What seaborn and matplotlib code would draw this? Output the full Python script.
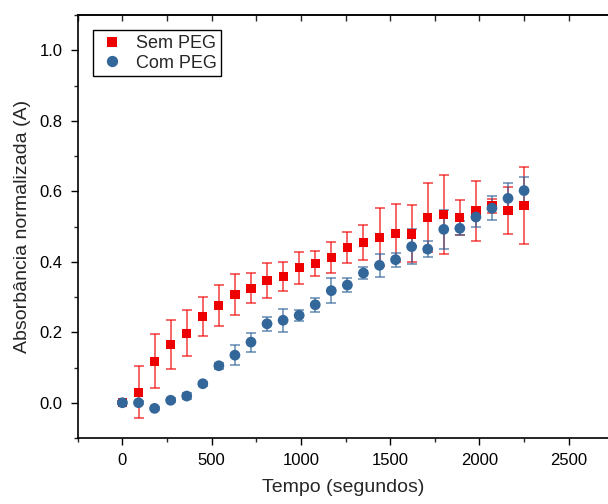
import matplotlib
matplotlib.use("Agg")
import matplotlib.pyplot as plt
import seaborn as sns
import pandas as pd
from matplotlib.ticker import MultipleLocator

tempo = [0, 90, 180, 270, 360, 450, 540, 630, 720, 810, 900, 990, 1080, 1170,
         1260, 1350, 1440, 1530, 1620, 1710, 1800, 1890, 1980, 2070, 2160, 2250]
sem_peg = [0.0, 0.030, 0.118, 0.166, 0.197, 0.245, 0.277, 0.307, 0.325, 0.347,
           0.358, 0.383, 0.395, 0.412, 0.441, 0.454, 0.470, 0.481, 0.479, 0.525,
           0.534, 0.525, 0.544, 0.559, 0.546, 0.560]
sem_peg_err = [0.005, 0.074, 0.077, 0.070, 0.065, 0.056, 0.058, 0.057, 0.043, 0.050,
               0.040, 0.045, 0.036, 0.044, 0.044, 0.050, 0.083, 0.083, 0.081, 0.098,
               0.113, 0.050, 0.085, 0.020, 0.067, 0.110]
com_peg = [0.0, 0.0, -0.016, 0.007, 0.019, 0.054, 0.105, 0.135, 0.172, 0.224,
           0.234, 0.248, 0.278, 0.318, 0.334, 0.368, 0.390, 0.406, 0.443, 0.436,
           0.492, 0.495, 0.527, 0.552, 0.580, 0.602]
com_peg_err = [0.004, 0.004, 0.004, 0.006, 0.008, 0.006, 0.008, 0.029, 0.027, 0.019,
               0.033, 0.015, 0.020, 0.036, 0.020, 0.018, 0.033, 0.020, 0.050, 0.023,
               0.055, 0.020, 0.028, 0.034, 0.045, 0.038]

labels = ["Sem PEG", "Com PEG"]
red = "#EE0000"
blue = "#336699"

df = pd.concat([
    pd.DataFrame({"Tempo": tempo, "A": sem_peg, "err": sem_peg_err, "Série": labels[0]}),
    pd.DataFrame({"Tempo": tempo, "A": com_peg, "err": com_peg_err, "Série": labels[1]}),
])

sns.set_theme(style="ticks")
plt.rcParams["font.family"] = ["Liberation Sans", "DejaVu Sans"]

fig = plt.figure(figsize=(6.08, 5.04), dpi=100)
ax = fig.add_axes([0.128, 0.131, 0.872, 0.839])

for lab, col in zip(labels, [red, blue]):
    sub = df[df["Série"] == lab]
    ax.errorbar(sub["Tempo"], sub["A"], yerr=sub["err"], fmt="none",
                ecolor=col, elinewidth=1.4, capsize=3.5, capthick=1.4, alpha=0.6, zorder=2)

sns.scatterplot(data=df, x="Tempo", y="A", hue="Série", style="Série", size="Série",
                palette={labels[0]: red, labels[1]: blue},
                markers={labels[0]: "s", labels[1]: "o"},
                sizes={labels[0]: 44, labels[1]: 60},
                linewidth=0, ax=ax, zorder=3)

ax.set_xlim(-250, 2720)
ax.set_ylim(-0.1, 1.1)
ax.xaxis.set_major_locator(MultipleLocator(500))
ax.xaxis.set_minor_locator(MultipleLocator(250))
ax.yaxis.set_major_locator(MultipleLocator(0.2))
ax.yaxis.set_minor_locator(MultipleLocator(0.1))
ax.yaxis.set_major_formatter(matplotlib.ticker.FormatStrFormatter("%.1f"))
ax.tick_params(axis="both", which="major", direction="out", length=5, width=1,
               labelsize=12, colors="black", pad=6)
ax.tick_params(axis="both", which="minor", direction="out", length=3, width=1)
ax.set_yticks([0.0, 0.2, 0.4, 0.6, 0.8, 1.0])

top = ax.secondary_xaxis("top")
top.xaxis.set_major_locator(MultipleLocator(250))
top.tick_params(direction="in", length=4, width=1, labeltop=False)
top.spines["top"].set_linewidth(1.2)

for sp in ax.spines.values():
    sp.set_linewidth(1.2)
    sp.set_color("black")
ax.spines["right"].set_visible(False)

ax.set_xlabel("Tempo (segundos)", fontsize=14, labelpad=8)
ax.set_ylabel("Absorbância normalizada (A)", fontsize=14, labelpad=6)

handles, hl = ax.get_legend_handles_labels()
leg = ax.legend(handles, hl, loc="upper left", bbox_to_anchor=(0.012, 0.985), frameon=True,
                fontsize=13, fancybox=False, edgecolor="black", handletextpad=0.5,
                borderpad=0.25, labelspacing=0.15, handlelength=1.6,
                markerscale=1.05, framealpha=1)
leg.get_frame().set_linewidth(1.0)

fig.savefig("out.png", dpi=100)
